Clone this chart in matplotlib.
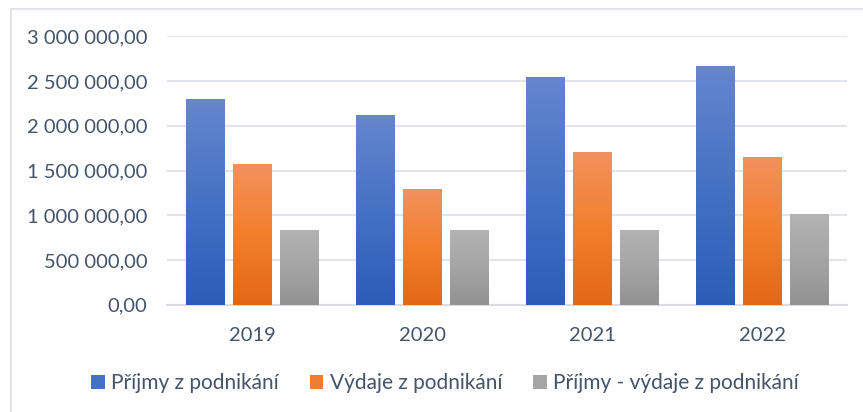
import matplotlib
matplotlib.use("Agg")
import matplotlib.pyplot as plt
import numpy as np
from matplotlib.patches import Rectangle, Patch
from matplotlib.colors import LinearSegmentedColormap
from matplotlib.ticker import FuncFormatter, MultipleLocator

years = ["2019", "2020", "2021", "2022"]
prijmy = [2300000, 2122000, 2547000, 2670000]
vydaje = [1574000, 1294000, 1708000, 1652000]
rozdil = [835000, 835000, 835000, 1014000]
series_names = ["Příjmy z podnikání", "Výdaje z podnikání", "Příjmy - výdaje z podnikání"]

plt.rcParams['font.family'] = ['Lato', 'DejaVu Sans']
text_color = '#44546A'

W, H = 863, 412
fig = plt.figure(figsize=(W / 100, H / 100), dpi=100)
ax = fig.add_axes([167 / W, 1 - 304.7 / H, 680 / W, (304.7 - 36.3) / H])

grads = [
    ('#6686CE', '#4472C4', '#2B5DB8'),
    ('#F2915E', '#F37F2C', '#E26815'),
    ('#B3B3B3', '#A5A5A5', '#929292'),
]
solid = ['#4472C4', '#ED7D31', '#A5A5A5']

x = np.arange(len(years))
width = 0.2265
step = 0.2765
all_series = [prijmy, vydaje, rozdil]
for i, vals in enumerate(all_series):
    cmap = LinearSegmentedColormap.from_list(f'g{i}', [grads[i][2], grads[i][1], grads[i][0]])
    bars = ax.bar(x + (i - 1) * step, vals, width, color='none', edgecolor='none', zorder=3)
    for b in bars:
        x0, y0 = b.get_x(), b.get_y()
        w, h = b.get_width(), b.get_height()
        grad = np.linspace(0, 1, 256).reshape(-1, 1)
        ax.imshow(grad, extent=[x0, x0 + w, y0, y0 + h], origin='lower', cmap=cmap,
                  aspect='auto', zorder=3, interpolation='bilinear')

ax.set_xlim(-0.5, len(years) - 0.5)
ax.set_ylim(0, 3000000)
ax.yaxis.set_major_locator(MultipleLocator(500000))

def fmt(v, pos):
    s = f"{v:,.2f}"
    return s.replace(",", " ").replace(".", ",")

ax.yaxis.set_major_formatter(FuncFormatter(fmt))
ax.set_xticks(x)
ax.set_xticklabels(years)
ax.tick_params(axis='both', length=0, labelsize=14.5, labelcolor=text_color)
ax.tick_params(axis='y', pad=14)
ax.tick_params(axis='x', pad=16)
ax.grid(axis='y', color='#E1E4EA', linewidth=1.5, zorder=0)
ax.set_axisbelow(True)
for s in ['top', 'right', 'left']:
    ax.spines[s].set_visible(False)
ax.spines['bottom'].set_color('#D9DCE1')
ax.spines['bottom'].set_linewidth(1.5)

fig.add_artist(Rectangle((11 / W, -0.1), 2, 1 - 9 / H + 0.1, transform=fig.transFigure,
                         fill=False, edgecolor='#DCE0E6', linewidth=1.2))

handles = [Patch(facecolor=solid[i], edgecolor='none') for i in range(3)]
fig.legend(handles, series_names, loc='center', bbox_to_anchor=(445 / W, 1 - 383 / H),
           ncol=3, frameon=False, fontsize=15, labelcolor=text_color,
           handlelength=0.65, handleheight=0.65, handletextpad=0.3, columnspacing=1.5)

fig.savefig('out.png', dpi=100)
